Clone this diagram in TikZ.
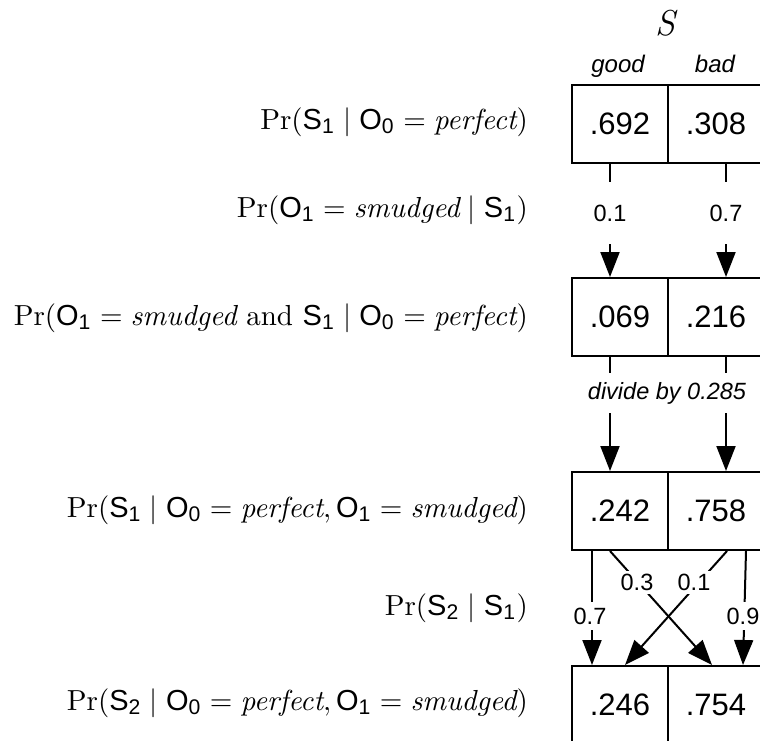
\documentclass[tikz,border=0pt]{standalone}
\usepackage{fontspec}
\newfontfamily\hv{Liberation Sans}
\usetikzlibrary{arrows.meta}
\newcommand{\vS}[1]{\mbox{\hv S}_{\mbox{\hv\fontsize{7.3}{8}\selectfont #1}}}
\newcommand{\vO}[1]{\mbox{\hv O}_{\mbox{\hv\fontsize{7.3}{8}\selectfont #1}}}
\newcommand{\fm}[1]{\scalebox{2.9}{$#1$}}
\begin{document}
\begin{tikzpicture}[x=1pt,y=-1pt,
  cell/.style={draw, line width=2pt, minimum width=96pt, minimum height=78pt, inner sep=0pt, font=\hv\fontsize{31}{36}\selectfont},
  arr/.style={line width=2pt, -{Triangle[length=25pt,width=19pt]}},
  lab/.style={font=\hv\fontsize{23.5}{28}\selectfont, fill=white, inner xsep=1pt, inner ysep=0pt},
  fml/.style={anchor=base east, font=\fontsize{10}{12}\selectfont, inner sep=0pt}]
\clip (0,0) rectangle (760,740);
% header
\node[font=\fontsize{36}{40}\selectfont, anchor=base, inner sep=0pt] (S) at (667,35) {\textit{S}};
\node[font=\hv\itshape\fontsize{24}{28}\selectfont, anchor=base, inner sep=0pt] (gd) at (618,72) {good};
\node[font=\hv\itshape\fontsize{24}{28}\selectfont, anchor=base, inner sep=0pt] (bd) at (715,72) {bad};
% cells
\node[cell] (g1) at (620,124) {.692};
\node[cell] (b1) at (716,124) {.308};
\node[cell] (g2) at (620,317) {.069};
\node[cell] (b2) at (716,317) {.216};
\node[cell] (g3) at (620,511) {.242};
\node[cell] (b3) at (716,511) {.758};
\node[cell] (g4) at (620,705) {.246};
\node[cell] (b4) at (716,705) {.754};
% row 1 -> 2
\draw[arr] ([xshift=-10pt]g1.south) -- ([xshift=-10pt]g2.north);
\draw[arr] ([xshift=10pt]b1.south) -- ([xshift=10pt]b2.north);
\node[lab, minimum height=62pt] (l1) at (610,213) {0.1};
\node[lab, minimum height=62pt] (l2) at (726,213) {0.7};
% row 2 -> 3
\draw[arr] ([xshift=-10pt]g2.south) -- ([xshift=-10pt]g3.north);
\draw[arr] ([xshift=10pt]b2.south) -- ([xshift=10pt]b3.north);
\node[lab, minimum height=40pt] (dv) at (667,393) {\itshape divide by 0.285};
% row 3 -> 4
\draw[arr] ([xshift=-28pt]g3.south) -- ([xshift=-28pt]g4.north);
\draw[arr] ([xshift=-10pt]g3.south) -- ([xshift=-4pt]b4.north);
\draw[arr] ([xshift=11pt]b3.south) -- ([xshift=5pt]g4.north);
\draw[arr] ([xshift=30pt]b3.south) -- ([xshift=27pt]b4.north);
\node[lab, minimum height=28pt] (l3) at (590,616) {0.7};
\node[lab, minimum height=23pt] (l4) at (637,582) {0.3};
\node[lab, minimum height=23pt] (l5) at (694,582) {0.1};
\node[lab, minimum height=28pt] (l6) at (743,616) {0.9};
% formulas
\node[fml] (f1) at (528,129) {\fm{\Pr(\vS{1} \mid \vO{0} = \textit{perfect})}};
\node[fml] (f2) at (528,217) {\fm{\Pr(\vO{1} = \textit{smudged} \mid \vS{1})}};
\node[fml] (f3) at (528,325) {\fm{\Pr(\vO{1} = \textit{smudged}\mbox{ and }\vS{1} \mid \vO{0} = \textit{perfect})}};
\node[fml] (f4) at (528,517) {\fm{\Pr(\vS{1} \mid \vO{0} = \textit{perfect}, \vO{1} = \textit{smudged})}};
\node[fml] (f5) at (528,615) {\fm{\Pr(\vS{2} \mid \vS{1})}};
\node[fml] (f6) at (528,710) {\fm{\Pr(\vS{2} \mid \vO{0} = \textit{perfect}, \vO{1} = \textit{smudged})}};
\end{tikzpicture}
\end{document}
